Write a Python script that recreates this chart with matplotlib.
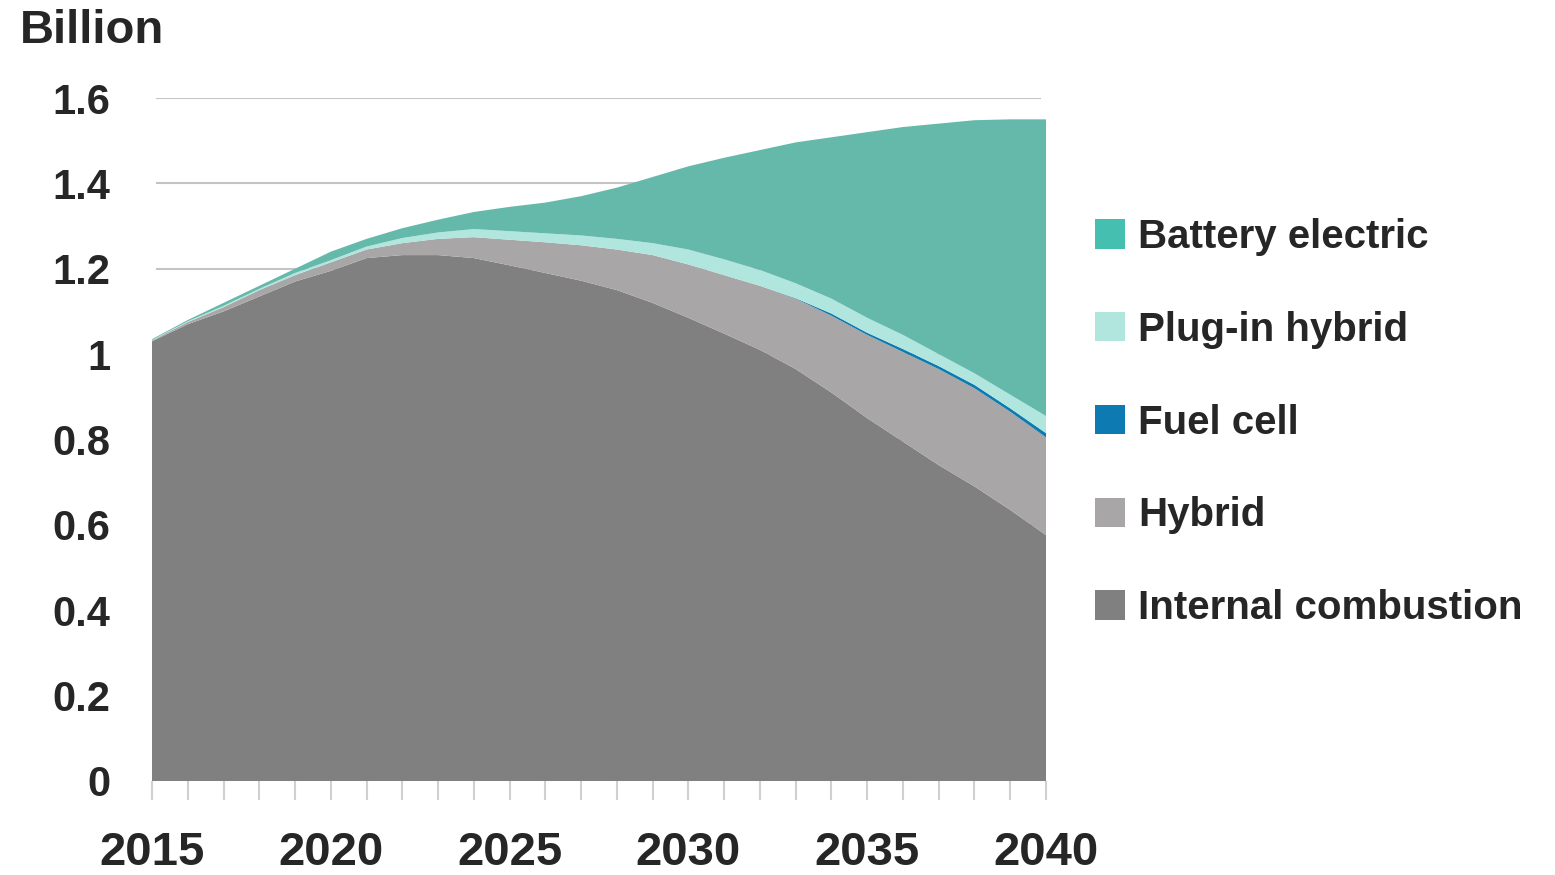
import matplotlib
matplotlib.use("Agg")
import matplotlib.pyplot as plt
from matplotlib.patches import Patch
import numpy as np

# 数据：十亿辆（逐年读图估计）
years = list(range(2015, 2041))

internal_combustion = [1.030, 1.070, 1.100, 1.135, 1.170, 1.195, 1.225, 1.232, 1.232, 1.225,
                       1.208, 1.190, 1.172, 1.150, 1.120, 1.085, 1.048, 1.010, 0.965, 0.910,
                       0.850, 0.795, 0.740, 0.690, 0.635, 0.576]
hybrid = [0.002, 0.005, 0.010, 0.015, 0.015, 0.020, 0.020, 0.028, 0.038, 0.049,
          0.060, 0.072, 0.083, 0.095, 0.112, 0.125, 0.137, 0.150, 0.165, 0.180,
          0.195, 0.210, 0.225, 0.230, 0.230, 0.229]
fuel_cell = [0.0, 0.0, 0.0, 0.0, 0.0, 0.0, 0.0, 0.0, 0.0, 0.0,
             0.0, 0.0, 0.0, 0.0, 0.0, 0.0, 0.0, 0.0, 0.001, 0.005,
             0.005, 0.007, 0.007, 0.008, 0.008, 0.010]
plug_in_hybrid = [0.001, 0.002, 0.003, 0.003, 0.005, 0.005, 0.007, 0.012, 0.015, 0.019,
                  0.020, 0.021, 0.023, 0.025, 0.028, 0.035, 0.037, 0.037, 0.035, 0.035,
                  0.035, 0.033, 0.028, 0.027, 0.032, 0.040]
battery_electric = [0.002, 0.003, 0.007, 0.007, 0.010, 0.020, 0.018, 0.023, 0.030, 0.040,
                    0.057, 0.072, 0.092, 0.120, 0.155, 0.195, 0.238, 0.281, 0.330, 0.378,
                    0.435, 0.487, 0.540, 0.593, 0.645, 0.695]

series_labels = ["Internal combustion", "Hybrid", "Fuel cell", "Plug-in hybrid", "Battery electric"]
area_colors = ["#808080", "#a8a6a6", "#0d7bb2", "#b0e6de", "#65b9ab"]
legend_colors = ["#808080", "#a8a6a6", "#0d7bb2", "#b0e6de", "#45bfaf"]

y_ticks = [0, 0.2, 0.4, 0.6, 0.8, 1.0, 1.2, 1.4, 1.6]
y_tick_labels = ["0", "0.2", "0.4", "0.6", "0.8", "1", "1.2", "1.4", "1.6"]
x_label_years = [2015, 2020, 2025, 2030, 2035, 2040]

text_color = "#262626"
plt.rcParams['font.family'] = ['Liberation Sans', 'DejaVu Sans']

fig = plt.figure(figsize=(15.55, 8.75), dpi=100)
ax = fig.add_axes([152 / 1555, 1 - 781 / 875, (1046 - 152) / 1555, (781 - 98) / 875])

# 网格线（只在 1.2 以上露出）
for t in y_ticks[1:]:
    ax.axhline(t, xmin=0.006, xmax=0.993, color="#c4c4c4", lw=1.5, zorder=0)

ax.stackplot(years, internal_combustion, hybrid, fuel_cell, plug_in_hybrid, battery_electric,
             colors=area_colors, linewidth=0, zorder=2)

ax.set_xlim(2015, 2040)
ax.set_ylim(0, 1.6)
for s in ax.spines.values():
    s.set_visible(False)

ax.set_yticks(y_ticks)
ax.set_yticklabels(y_tick_labels, fontsize=30, fontweight="bold", color=text_color)
ax.tick_params(axis="y", length=0, pad=30)

ax.set_xticks(years)
ax.set_xticklabels([str(y) if y in x_label_years else "" for y in years],
                   fontsize=34, fontweight="bold", color=text_color)
ax.tick_params(axis="x", length=14, width=1.5, color="#d0d0d0", pad=22)

fig.text(20 / 1555, 1 - 9 / 875, "Billion", fontsize=34, fontweight="bold",
         color=text_color, ha="left", va="top")

handles = [Patch(facecolor=c, edgecolor="none") for c in legend_colors][::-1]
leg = ax.legend(handles, series_labels[::-1], loc="upper left",
                bbox_to_anchor=(1095 / 1555, 1 - 218 / 875), bbox_transform=fig.transFigure,
                frameon=False, fontsize=29, handlelength=0.74, handleheight=0.74,
                handletextpad=0.34, labelspacing=1.36, borderaxespad=0, borderpad=0)
for t in leg.get_texts():
    t.set_fontweight("bold")
    t.set_color(text_color)

fig.savefig("out.png", dpi=100)
